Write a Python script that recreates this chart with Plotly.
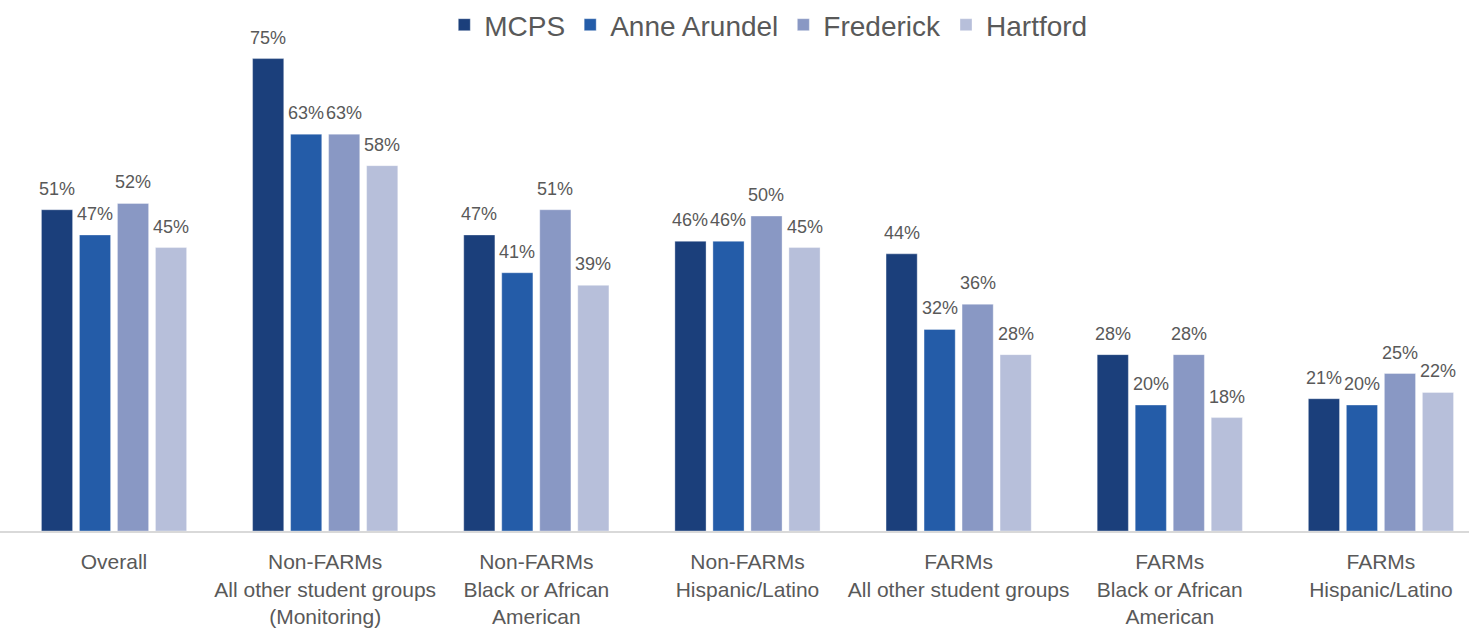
import plotly.graph_objects as go

categories = [
    "Overall",
    "Non-FARMs<br>All other student groups<br>(Monitoring)",
    "Non-FARMs<br>Black or African<br>American",
    "Non-FARMs<br>Hispanic/Latino",
    "FARMs<br>All other student groups",
    "FARMs<br>Black or African<br>American",
    "FARMs<br>Hispanic/Latino",
]
mcps = [51, 75, 47, 46, 44, 28, 21]
anne_arundel = [47, 63, 41, 46, 32, 20, 20]
frederick = [52, 63, 51, 50, 36, 28, 25]
hartford = [45, 58, 39, 45, 28, 18, 22]

series = [
    ("MCPS", mcps, "#1B3F7B"),
    ("Anne Arundel", anne_arundel, "#245CA8"),
    ("Frederick", frederick, "#8998C4"),
    ("Hartford", hartford, "#B7BFDA"),
]

FONT = "Liberation Sans, Arial, sans-serif"
GREY = "#595959"
W, H = 1469, 631
BOTTOM = 100
X_RANGE = [-0.54, 6.417]
BARGAP, GROUPGAP = 0.28, 0.18

fig = go.Figure()
for name, vals, color in series:
    fig.add_trace(go.Bar(
        name=name, x=categories, y=vals,
        marker=dict(color=color, line=dict(color="rgba(255,255,255,0.35)", width=1)),
        cliponaxis=False, hoverinfo="skip",
    ))

# value labels, placed above each bar via axis coordinates
px_per_unit = W / (X_RANGE[1] - X_RANGE[0])
slot_px = (1 - BARGAP) / len(series) * px_per_unit
for k, (name, vals, color) in enumerate(series):
    for cat, v in zip(categories, vals):
        fig.add_annotation(
            x=cat, y=v, text=f"{v}%", showarrow=False,
            xanchor="center", yanchor="bottom",
            xshift=(k - (len(series) - 1) / 2) * slot_px, yshift=9,
            font=dict(family=FONT, size=18, color=GREY),
        )

fig.update_layout(
    width=W, height=H,
    margin=dict(l=0, r=0, t=0, b=BOTTOM, autoexpand=False),
    paper_bgcolor="white", plot_bgcolor="white",
    barmode="group", bargap=BARGAP, bargroupgap=GROUPGAP,
    font=dict(family=FONT, color=GREY),
    showlegend=True,
    legend=dict(orientation="h", x=0.523, xanchor="center",
                y=1 - 25 / (H - BOTTOM), yanchor="middle",
                font=dict(family=FONT, size=28, color=GREY), itemwidth=30,
                traceorder="normal", bgcolor="rgba(0,0,0,0)"),
    xaxis=dict(range=X_RANGE, showline=True, linecolor="#D9D9D9", linewidth=2,
               tickfont=dict(family=FONT, size=21, color=GREY), ticks="",
               ticklabelstandoff=11, automargin=False, fixedrange=True),
    yaxis=dict(range=[0, 84.3], visible=False, showgrid=False, automargin=False,
               fixedrange=True),
)

fig.write_html("out.html", config={"displayModeBar": False},
               post_script="document.body.style.margin='0px';")
